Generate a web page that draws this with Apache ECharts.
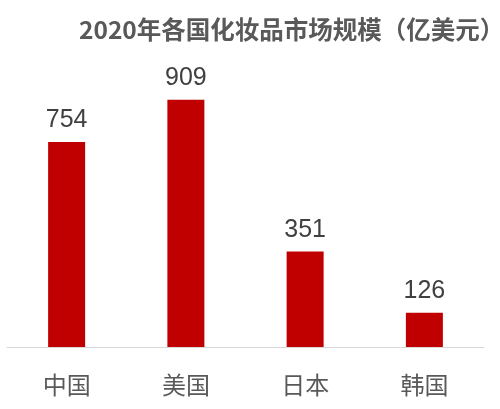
<!DOCTYPE html>
<html>
<head>
<meta charset="utf-8">
<script src="https://cdn.jsdelivr.net/npm/echarts@6/dist/echarts.min.js"></script>
<style>
  html, body { margin: 0; padding: 0; background: #ffffff; }
  #chart { width: 500px; height: 409px; }
</style>
</head>
<body>
<div id="chart"></div>
<script>
// Cosmetics market size by country, 2020 (100 million USD)
const titleText = '2020年各国化妆品市场规模（亿美元）';
const countries = ['中国', '美国', '日本', '韩国'];
const marketSize = [754, 909, 351, 126];

const chart = echarts.init(document.getElementById('chart'), null, { renderer: 'canvas' });
const cjkFont = '"Noto Sans CJK SC", "Noto Sans", sans-serif';

chart.setOption({
  backgroundColor: '#ffffff',
  animation: false,
  title: {
    text: titleText,
    left: 74,
    top: 12,
    textStyle: {
      fontFamily: cjkFont,
      fontSize: 24.5,
      fontWeight: 'bold',
      color: '#595959'
    }
  },
  grid: {
    left: 7,
    right: 16,
    top: 75,
    bottom: 62,
    containLabel: false
  },
  xAxis: {
    type: 'category',
    data: countries,
    axisLine: { show: true, lineStyle: { color: '#d9d9d9', width: 1 } },
    axisTick: { show: false },
    axisLabel: {
      margin: 26,
      fontFamily: cjkFont,
      fontSize: 24,
      color: '#595959'
    }
  },
  yAxis: {
    type: 'value',
    min: 0,
    max: 1000,
    show: false,
    splitLine: { show: false }
  },
  series: [{
    type: 'bar',
    data: marketSize,
    barWidth: 37,
    itemStyle: { color: '#c00000' },
    label: {
      show: true,
      position: 'top',
      distance: 9,
      fontFamily: 'Arial, "Liberation Sans", sans-serif',
      fontSize: 25,
      color: '#404040'
    }
  }]
});
</script>
</body>
</html>
